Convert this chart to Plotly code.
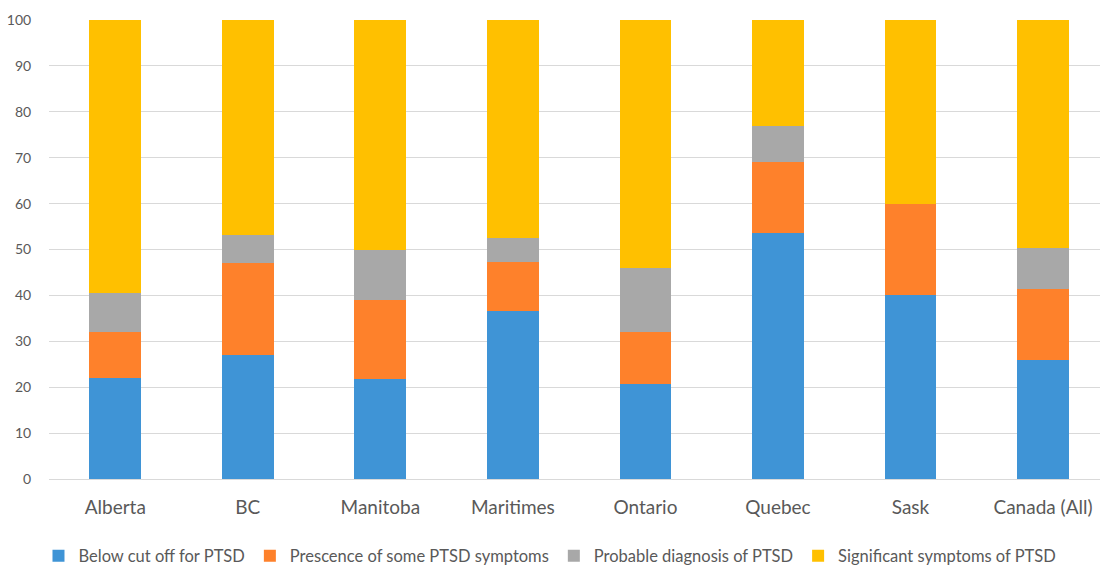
import plotly.graph_objects as go

categories = ["Alberta", "BC", "Manitoba", "Maritimes", "Ontario", "Quebec", "Sask", "Canada (All)"]
below_cutoff = [22.0, 27.0, 21.7, 36.7, 20.8, 53.7, 40.0, 26.0]
some_symptoms = [10.0, 20.1, 17.2, 10.5, 11.2, 15.4, 20.0, 15.4]
probable_dx = [8.5, 6.1, 11.0, 5.2, 14.0, 7.9, 0.0, 9.0]
significant = [59.5, 46.8, 50.1, 47.6, 54.0, 23.0, 40.0, 49.6]

series_names = ["Below cut off for PTSD", "Prescence of some PTSD symptoms",
                "Probable diagnosis of PTSD", "Significant symptoms of PTSD"]
series_vals = [below_cutoff, some_symptoms, probable_dx, significant]
colors = ["#3f94d6", "#fe812b", "#a8a8a8", "#ffc000"]

font_family = "Lato, sans-serif"

fig = go.Figure()
for name, vals, col in zip(series_names, series_vals, colors):
    fig.add_trace(go.Bar(x=categories, y=vals, name=name, marker_color=col,
                         marker_line_width=0))

fig.update_layout(
    barmode="stack",
    bargap=0.61,
    width=1100, height=568,
    margin=dict(l=49, r=0, t=20, b=89, autoexpand=False),
    plot_bgcolor="white", paper_bgcolor="white",
    font=dict(family=font_family, color="#595959"),
    showlegend=True,
    legend=dict(orientation="h", x=-0.01, xanchor="left", y=-0.168, yanchor="middle",
                font=dict(size=16.5, color="#595959", family=font_family),
                traceorder="normal", itemwidth=30),
    xaxis=dict(range=[-0.5, 7.43], tickfont=dict(size=19, color="#595959"),
               showline=False, ticks="outside", ticklen=11, tickcolor="rgba(0,0,0,0)",
               showgrid=False),
    yaxis=dict(range=[0, 100], dtick=10, tickfont=dict(size=14, color="#595959"),
               gridcolor="#d9d9d9", gridwidth=1, zeroline=True, zerolinecolor="#d9d9d9",
               zerolinewidth=1, showline=False, ticks="outside", ticklen=14,
               tickcolor="rgba(0,0,0,0)"),
)

fig.write_html("out.html")
